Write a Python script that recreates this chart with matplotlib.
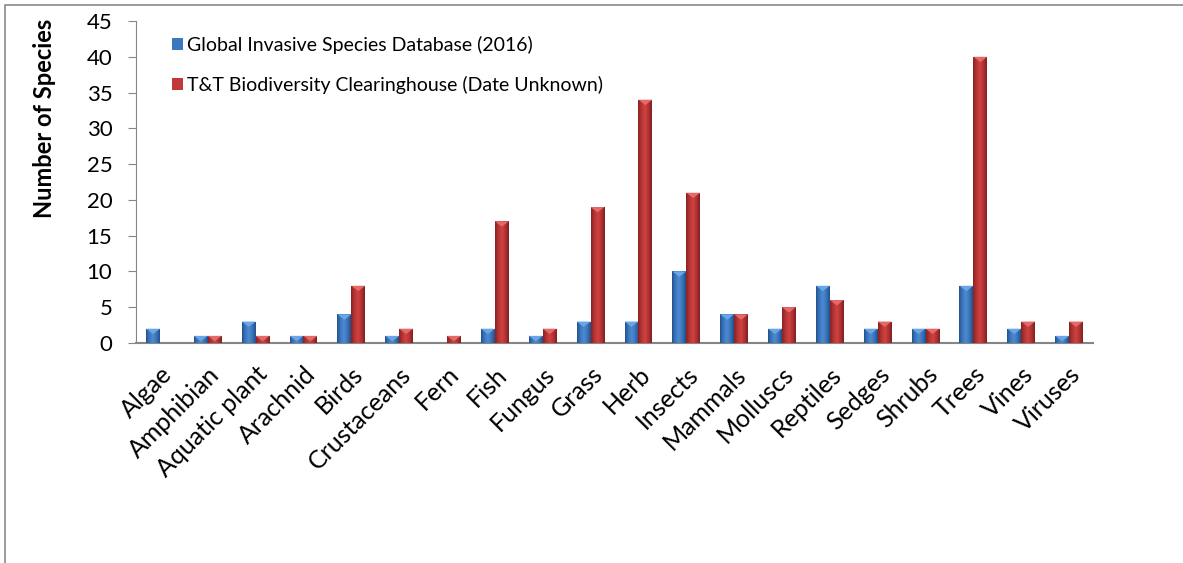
import matplotlib.pyplot as plt
import matplotlib.colors as mcolors
from matplotlib.patches import Polygon, Rectangle
import numpy as np

plt.rcParams['font.family'] = ['Lato', 'DejaVu Sans']

# 数据
categories = ["Algae", "Amphibian", "Aquatic plant", "Arachnid", "Birds", "Crustaceans",
              "Fern", "Fish", "Fungus", "Grass", "Herb", "Insects", "Mammals", "Molluscs",
              "Reptiles", "Sedges", "Shrubs", "Trees", "Vines", "Viruses"]
gisd = [2, 1, 3, 1, 4, 1, 0, 2, 1, 3, 3, 10, 4, 2, 8, 2, 2, 8, 2, 1]
tt = [0, 1, 1, 1, 8, 2, 1, 17, 2, 19, 34, 21, 4, 5, 6, 3, 2, 40, 3, 3]
label_gisd = "Global Invasive Species Database (2016)"
label_tt = "T&T Biodiversity Clearinghouse (Date Unknown)"

blue_cmap = mcolors.LinearSegmentedColormap.from_list("b", ["#24528c", "#3c78c0", "#4d8ad2", "#3a74ba", "#22508a"])
red_cmap = mcolors.LinearSegmentedColormap.from_list("r", ["#862222", "#b83434", "#cf4242", "#b43232", "#7e1f1f"])

fig = plt.figure(figsize=(11.83, 5.63), dpi=100)
ax = fig.add_axes([136 / 1183, 1 - 343 / 563, (1093 - 136) / 1183, (343 - 21) / 563])

# 外框
fig.patches.append(Rectangle((5 / 1183, -0.1), 1.2, 1 - 5 / 563 + 0.1, transform=fig.transFigure,
                             fill=False, edgecolor="#8a8a8a", linewidth=1.2))

positions = np.arange(len(categories))
w = 0.29
bars1 = ax.bar(positions - w / 2, gisd, width=w, color="#3c78c0", label=label_gisd, zorder=2)
bars2 = ax.bar(positions + w / 2, tt, width=w, color="#c03a3a", label=label_tt, zorder=2)

# 渐变填充 + 顶部三角
grad = np.linspace(0, 1, 64).reshape(1, -1)
dh = 0.75
for bars, cmap, top in [(bars1, blue_cmap, "#6aa6e6"), (bars2, red_cmap, "#e46a6a")]:
    for b in bars:
        h = b.get_height()
        if h <= 0:
            continue
        x0 = b.get_x()
        bw = b.get_width()
        im = ax.imshow(grad, extent=[x0, x0 + bw, 0, h], aspect='auto', cmap=cmap, zorder=3)
        im.set_clip_path(b)
        d = min(dh, h)
        ax.add_patch(Polygon([(x0, h), (x0 + bw, h), (x0 + bw / 2, h - d)], closed=True,
                             facecolor=top, edgecolor='none', zorder=4))

ax.set_xlim(-0.5, len(categories) - 0.5)
ax.set_ylim(0, 45)
ax.set_yticks(np.arange(0, 46, 5))
ax.set_xticks(positions)
ax.set_xticklabels(categories, rotation=45, ha='right', rotation_mode='anchor', fontsize=18)
ax.tick_params(axis='x', length=0, pad=14)
ax.tick_params(axis='y', labelsize=16, length=6, color="#868686", direction='out', pad=11)

for s in ["top", "right"]:
    ax.spines[s].set_visible(False)
ax.spines["left"].set_color("#868686")
ax.spines["bottom"].set_color("#868686")
ax.spines["bottom"].set_linewidth(1.5)

fig.text(45 / 1183, 1 - 118 / 563, "Number of Species", rotation=90, fontsize=17,
         fontweight='bold', ha='center', va='center')

ax.legend(loc='upper left', bbox_to_anchor=(0.027, 0.985), frameon=False, fontsize=14,
          handlelength=0.6, handleheight=0.6, handletextpad=0.2, labelspacing=1.15,
          borderpad=0)

fig.savefig("out.png", dpi=100)
